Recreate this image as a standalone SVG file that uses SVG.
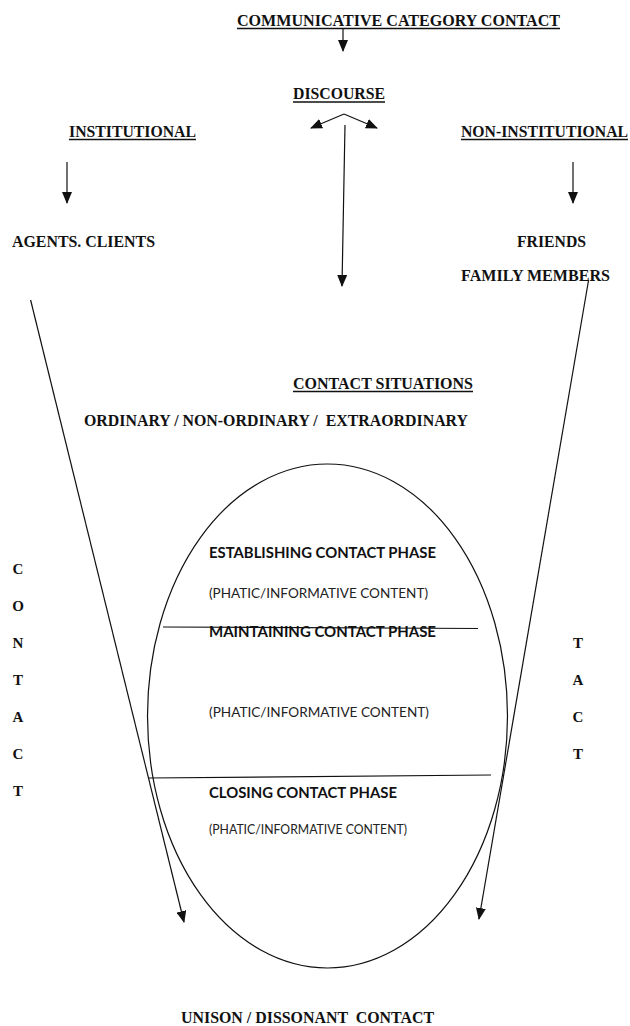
<svg xmlns="http://www.w3.org/2000/svg" width="630" height="1026" viewBox="0 0 630 1026">
<defs>
<style>
.t{font-family:"Liberation Serif","Times New Roman",serif;font-weight:bold;font-size:16px;fill:#111}
.s{font-family:Lato,"Liberation Sans",sans-serif;font-weight:bold;font-size:15px;fill:#111}
.p{font-family:Lato,"Liberation Sans",sans-serif;font-size:14px;fill:#222}
.u{stroke:#111;stroke-width:1.5}
.c{stroke:#111;stroke-width:1.2;fill:none}
.l{font-family:"Liberation Serif","Times New Roman",serif;font-weight:bold;font-size:15px;fill:#111;text-anchor:middle}
</style>
<marker id="ah" markerUnits="userSpaceOnUse" markerWidth="12" markerHeight="10" viewBox="0 0 12 10" refX="11" refY="5" orient="auto">
<path d="M0,0 L12,5 L0,10 Z" fill="#111"/>
</marker>
</defs>
<rect width="630" height="1026" fill="#fff"/>

<g id="node-communicative">
<text class="t" x="237" y="26" textLength="323" lengthAdjust="spacingAndGlyphs">COMMUNICATIVE CATEGORY CONTACT</text>
<line class="u" x1="237" y1="28.5" x2="560" y2="28.5"/>
</g>
<g id="node-discourse">
<text class="t" x="293" y="99" textLength="92" lengthAdjust="spacingAndGlyphs">DISCOURSE</text>
<line class="u" x1="293" y1="102" x2="385" y2="102"/>
</g>
<g id="node-institutional">
<text class="t" x="69" y="137" textLength="127" lengthAdjust="spacingAndGlyphs">INSTITUTIONAL</text>
<line class="u" x1="69" y1="139.5" x2="196" y2="139.5"/>
</g>
<g id="node-noninstitutional">
<text class="t" x="461" y="137" textLength="167" lengthAdjust="spacingAndGlyphs">NON-INSTITUTIONAL</text>
<line class="u" x1="461" y1="139.5" x2="628" y2="139.5"/>
</g>
<g id="node-agents">
<text class="t" x="12" y="247" textLength="143" lengthAdjust="spacingAndGlyphs">AGENTS. CLIENTS</text>
</g>
<g id="node-friends">
<text class="t" x="517" y="247" textLength="69" lengthAdjust="spacingAndGlyphs">FRIENDS</text>
<text class="t" x="461" y="281" textLength="149" lengthAdjust="spacingAndGlyphs">FAMILY MEMBERS</text>
</g>
<g id="node-situations">
<text class="t" x="293" y="389" textLength="180" lengthAdjust="spacingAndGlyphs">CONTACT SITUATIONS</text>
<line class="u" x1="293" y1="391.5" x2="473" y2="391.5"/>
<text class="t" x="84" y="426" textLength="384" lengthAdjust="spacingAndGlyphs" xml:space="preserve">ORDINARY / NON-ORDINARY /  EXTRAORDINARY</text>
</g>
<g id="node-phases">
<ellipse class="c" cx="327.5" cy="716" rx="180" ry="252"/>
<line class="c" x1="163" y1="627" x2="478" y2="628.5"/>
<line class="c" x1="148" y1="778" x2="491" y2="775"/>
<text class="s" x="209" y="558" textLength="227" lengthAdjust="spacingAndGlyphs">ESTABLISHING CONTACT PHASE</text>
<text class="p" x="209" y="598" textLength="219" lengthAdjust="spacingAndGlyphs">(PHATIC/INFORMATIVE CONTENT)</text>
<text class="s" x="209" y="637" textLength="227" lengthAdjust="spacingAndGlyphs">MAINTAINING CONTACT PHASE</text>
<text class="p" x="209" y="717" textLength="220" lengthAdjust="spacingAndGlyphs">(PHATIC/INFORMATIVE CONTENT)</text>
<text class="s" x="209" y="798" textLength="188" lengthAdjust="spacingAndGlyphs">CLOSING CONTACT PHASE</text>
<text class="p" x="209" y="834" textLength="198" lengthAdjust="spacingAndGlyphs" style="font-size:13px">(PHATIC/INFORMATIVE CONTENT)</text>
</g>
<g id="node-contact-left">
<text class="l" x="18" y="574">C</text>
<text class="l" x="18" y="611">O</text>
<text class="l" x="18" y="648">N</text>
<text class="l" x="18" y="685">T</text>
<text class="l" x="18" y="722">A</text>
<text class="l" x="18" y="759">C</text>
<text class="l" x="18" y="796">T</text>
</g>
<g id="node-contact-right">
<text class="l" x="578" y="648">T</text>
<text class="l" x="578" y="685">A</text>
<text class="l" x="578" y="722">C</text>
<text class="l" x="578" y="759">T</text>
</g>
<g id="node-unison">
<text class="t" x="181" y="1023" textLength="253" lengthAdjust="spacingAndGlyphs" xml:space="preserve">UNISON / DISSONANT  CONTACT</text>
</g>

<g id="connectors">
<line class="c" x1="343" y1="29" x2="343" y2="51" marker-end="url(#ah)"/>
<line class="c" x1="344" y1="114" x2="311" y2="128" marker-end="url(#ah)"/>
<line class="c" x1="344" y1="114" x2="377" y2="128" marker-end="url(#ah)"/>
<line class="c" x1="345" y1="125" x2="342" y2="286" marker-end="url(#ah)"/>
<line class="c" x1="67" y1="162" x2="67" y2="203" marker-end="url(#ah)"/>
<line class="c" x1="573" y1="162" x2="573" y2="203" marker-end="url(#ah)"/>
<line class="c" x1="30.6" y1="300" x2="184" y2="922" marker-end="url(#ah)"/>
<line class="c" x1="588.6" y1="280" x2="479" y2="919" marker-end="url(#ah)"/>
</g>
</svg>
